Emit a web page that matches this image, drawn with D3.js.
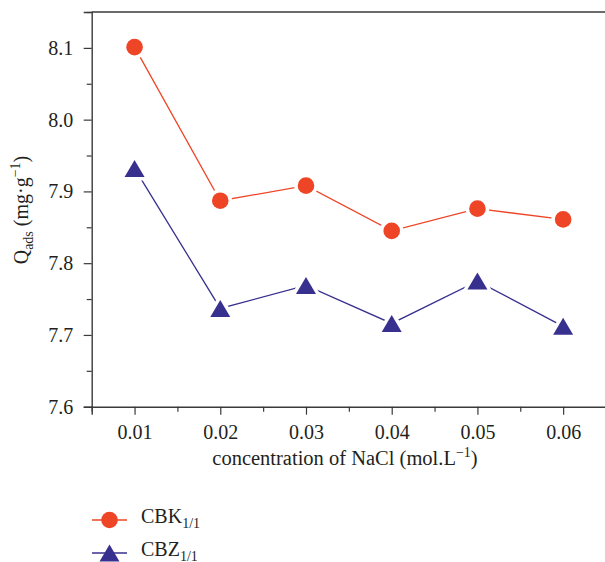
<!DOCTYPE html>
<html>
<head>
<meta charset="utf-8">
<script src="https://cdn.jsdelivr.net/npm/d3@7"></script>
<style>
  html, body { margin: 0; padding: 0; background: #fff; }
  svg { display: block; }
</style>
</head>
<body>
<script>
// NaCl concentration (mol/L) and adsorption capacity Q_ads (mg/g)
const concentrations = [0.01, 0.02, 0.03, 0.04, 0.05, 0.06];
const cbkValues = [8.101, 7.887, 7.908, 7.845, 7.876, 7.861];
const cbzValues = [7.932, 7.737, 7.769, 7.716, 7.775, 7.712];
const xTickValues = [0.01, 0.02, 0.03, 0.04, 0.05, 0.06];
const yTickValues = [7.6, 7.7, 7.8, 7.9, 8.0, 8.1];
const seriesNames = ["CBK", "CBZ"];

const W = 605, H = 562;
const margin = { left: 91.7, top: 12, right: -1, bottom: 155.3 };
const RED = "#ee4526", BLUE = "#38308f", AXIS = "#3a3a3a", INK = "#231f20";
const FONT = "'Liberation Serif', 'Times New Roman', serif";

const svg = d3.select("body").append("svg").attr("width", W).attr("height", H)
  .attr("font-family", FONT);

const x = d3.scaleLinear().domain([0.005, 0.065]).range([margin.left, W - margin.right]);
const y = d3.scaleLinear().domain([7.6, 8.15]).range([H - margin.bottom, margin.top]);
const y0 = y(7.6), x0 = x(0.005);

// frame: top and right edges
svg.append("line").attr("x1", x0).attr("x2", x(0.065)).attr("y1", y(8.15)).attr("y2", y(8.15))
  .attr("stroke", AXIS).attr("stroke-width", 1.4);
svg.append("line").attr("x1", x(0.065)).attr("x2", x(0.065)).attr("y1", y(8.15)).attr("y2", y0)
  .attr("stroke", AXIS).attr("stroke-width", 1.4);

// minor ticks
const xMinor = d3.range(0.005, 0.0651, 0.01);
const yMinor = d3.range(7.65, 8.151, 0.1);

svg.append("g").attr("transform", `translate(0,${y0})`)
  .call(d3.axisBottom(x).tickValues(xTickValues).tickFormat(d3.format(".2f")).tickSize(8).tickPadding(10));
svg.append("g").attr("transform", `translate(0,${y0})`)
  .call(d3.axisBottom(x).tickValues(xMinor).tickFormat("").tickSize(5))
  .call(g => g.select(".domain").remove());

svg.append("g").attr("transform", `translate(${x0},0)`)
  .call(d3.axisLeft(y).tickValues(yTickValues).tickFormat(d3.format(".1f")).tickSize(8).tickPadding(10.5));
svg.append("g").attr("transform", `translate(${x0},0)`)
  .call(d3.axisLeft(y).tickValues(yMinor).tickFormat("").tickSize(5))
  .call(g => g.select(".domain").remove());

svg.selectAll("g").attr("font-family", FONT).attr("font-size", 20);
svg.selectAll(".domain").attr("stroke", AXIS).attr("stroke-width", 1.4);
svg.selectAll(".tick line").attr("stroke", AXIS).attr("stroke-width", 1.2);
svg.selectAll(".tick text").attr("fill", INK);

// axis titles
const xt = svg.append("text").attr("x", 345).attr("y", 465).attr("text-anchor", "middle")
  .attr("fill", INK).attr("font-size", 20.5);
xt.append("tspan").text("concentration of NaCl (mol.L");
xt.append("tspan").text("\u22121").attr("dy", -8).attr("font-size", 14);
xt.append("tspan").text(")").attr("dy", 8);

const yt = svg.append("text").attr("transform", `translate(28,${210}) rotate(-90)`)
  .attr("text-anchor", "middle").attr("fill", INK).attr("font-size", 20);
yt.append("tspan").text("Q");
yt.append("tspan").text("ads").attr("dy", 5).attr("font-size", 14);
yt.append("tspan").text(" (mg\u00b7g").attr("dy", -5);
yt.append("tspan").text("\u22121").attr("dy", -8).attr("font-size", 14);
yt.append("tspan").text(")").attr("dy", 8);

// triangle centred on its bounding box
function triPath(w, h) {
  return `M0,${-h / 2}L${w / 2},${h / 2}L${-w / 2},${h / 2}Z`;
}

const line = d3.line().x(d => x(d[0])).y(d => y(d[1]));
const cbk = concentrations.map((c, i) => [c, cbkValues[i]]);
const cbz = concentrations.map((c, i) => [c, cbzValues[i]]);

svg.append("path").datum(cbk).attr("d", line).attr("fill", "none").attr("stroke", RED).attr("stroke-width", 1.3);
svg.append("path").datum(cbz).attr("d", line).attr("fill", "none").attr("stroke", BLUE).attr("stroke-width", 1.3);

// markers with a white halo that opens a gap in the connecting line
function circles(data, color) {
  const g = svg.append("g");
  g.selectAll("circle.h").data(data).join("circle").attr("cx", d => x(d[0])).attr("cy", d => y(d[1]))
    .attr("r", 8.3).attr("fill", "#fff").attr("stroke", "#fff").attr("stroke-width", 7);
  g.selectAll("circle.m").data(data).join("circle").attr("cx", d => x(d[0])).attr("cy", d => y(d[1]))
    .attr("r", 8.3).attr("fill", color);
}
function triangles(data, color) {
  const g = svg.append("g");
  g.selectAll("path.h").data(data).join("path").attr("d", triPath(20, 17))
    .attr("transform", d => `translate(${x(d[0])},${y(d[1])})`)
    .attr("fill", "#fff").attr("stroke", "#fff").attr("stroke-width", 7).attr("stroke-linejoin", "round");
  g.selectAll("path.m").data(data).join("path").attr("d", triPath(20, 17))
    .attr("transform", d => `translate(${x(d[0])},${y(d[1])})`)
    .attr("fill", color);
}
circles(cbk, RED);
triangles(cbz, BLUE);

// legend
const legend = svg.append("g");
const rows = [
  { name: seriesNames[0], color: RED, y: 520, shape: "circle" },
  { name: seriesNames[1], color: BLUE, y: 553, shape: "triangle" }
];
rows.forEach(r => {
  legend.append("line").attr("x1", 92).attr("x2", 127).attr("y1", r.y).attr("y2", r.y)
    .attr("stroke", r.color).attr("stroke-width", 1.3);
  if (r.shape === "circle") {
    legend.append("circle").attr("cx", 109.5).attr("cy", r.y).attr("r", 8.3).attr("fill", r.color);
  } else {
    legend.append("path").attr("d", triPath(20, 17)).attr("transform", `translate(109.5,${r.y})`).attr("fill", r.color);
  }
  const t = legend.append("text").attr("x", 141).attr("y", r.y + 3).attr("fill", INK).attr("font-size", 20);
  t.append("tspan").text(r.name);
  t.append("tspan").text("1/1").attr("dy", 5).attr("font-size", 14);
});
</script>
</body>
</html>
